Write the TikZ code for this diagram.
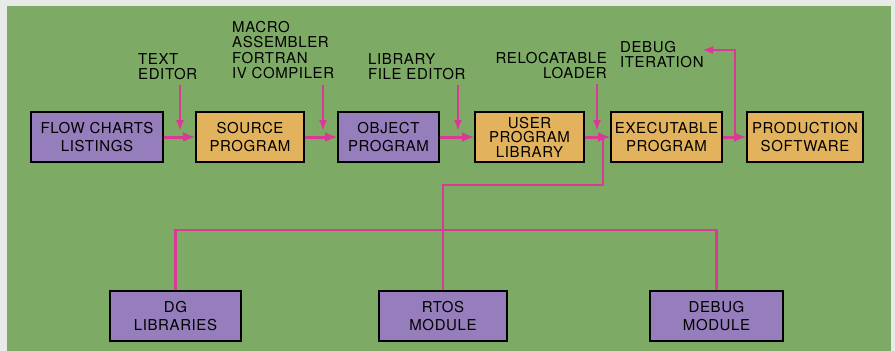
\documentclass[tikz,border=0pt]{standalone}
\usepackage{fontspec}
\setmainfont{TeX Gyre Heros}[LetterSpace=4]
\usetikzlibrary{arrows.meta}
\definecolor{sdgray}{RGB}{232,234,232}
\definecolor{sdgreen}{RGB}{125,170,100}
\definecolor{sdpurple}{RGB}{150,125,188}
\definecolor{sdorange}{RGB}{226,178,92}
\definecolor{sdpink}{RGB}{218,58,150}
\begin{document}
\begin{tikzpicture}[x=1pt, y=-1pt,
  sdevbox/.style = {draw=black, line width=1.6pt, minimum height=50pt, inner sep=0pt,
    align=center, font=\fontsize{15}{18.5}\selectfont},
  sdevpurple/.style = {sdevbox, fill=sdpurple},
  sdevorange/.style = {sdevbox, fill=sdorange},
  sdevflow/.style = {line width=3pt, sdpink, -{Latex[length=12pt,width=10pt]}},
  sdevfeed/.style = {line width=2.2pt, sdpink, -{Latex[length=11pt,width=8pt]}},
  sdevlink/.style = {line width=2.2pt, sdpink},
  sdevlbl/.style = {inner sep=0pt, font=\fontsize{15}{15.5}\selectfont}
]
  % panel
  \fill[sdgray] (0,0) rectangle (895,351);
  \fill[sdgreen] (7,6) rectangle (891,351);
  % main chain
  \node[sdevpurple, minimum width=132pt] (flow) at (97,137) {FLOW CHARTS\\LISTINGS};
  \node[sdevorange, minimum width=108pt] (source) at (250,137) {SOURCE\\PROGRAM};
  \node[sdevpurple, minimum width=101pt] (object) at (388.5,137) {OBJECT\\PROGRAM};
  \node[sdevorange, minimum width=109pt, font=\fontsize{15}{14.5}\selectfont]
    (userlib) at (529.5,137) {USER\\PROGRAM\\LIBRARY};
  \node[sdevorange, minimum width=111pt] (exec) at (666.5,137) {EXECUTABLE\\PROGRAM};
  \node[sdevorange, minimum width=116pt] (prod) at (805,137) {PRODUCTION\\SOFTWARE};
  % modules
  \node[sdevpurple, minimum width=131pt] (dglib) at (175.5,316) {DG\\LIBRARIES};
  \node[sdevpurple, minimum width=128pt] (rtos) at (443,316) {RTOS\\MODULE};
  \node[sdevpurple, minimum width=133pt] (debug) at (716.5,316) {DEBUG\\MODULE};
  % tools
  \node[sdevlbl, anchor=north west, align=left] (txted) at (138,53) {TEXT\\EDITOR};
  \node[sdevlbl, anchor=north west, align=left] (compiler) at (232,21)
    {MACRO\\ASSEMBLER\\FORTRAN\\IV COMPILER};
  \node[sdevlbl, anchor=north west, align=left] (libed) at (368,53) {LIBRARY\\FILE EDITOR};
  \node[sdevlbl, anchor=north east, align=right] (loader) at (607,52) {RELOCATABLE\\LOADER};
  \node[sdevlbl, anchor=north west, align=left] (dbgit) at (620,41) {DEBUG\\ITERATION};
  % flow arrows
  \draw[sdevflow] (flow) -- (source);
  \draw[sdevflow] (source) -- (object);
  \draw[sdevflow] (object) -- (userlib);
  \draw[sdevflow] (userlib) -- (exec);
  \draw[sdevflow] (exec) -- (prod);
  % tool arrows
  \coordinate (txtin) at (180,131);
  \coordinate (cmpin) at (323,131);
  \coordinate (libin) at (458,131);
  \coordinate (ldrin) at (597,131);
  \draw[sdevfeed] (txtin |- txted.south) ++(0,5) -- (txtin);
  \draw[sdevfeed] (cmpin |- txted.south) ++(0,5) -- (cmpin);
  \draw[sdevfeed] (libin |- libed.south) ++(0,5) -- (libin);
  \draw[sdevfeed] (ldrin |- loader.south) ++(0,5) -- (ldrin);
  % module links
  \coordinate (split) at (603,137);
  \draw[sdevlink] (split) -- ++(0,48) -| (rtos.north);
  \draw[sdevlink] (dglib.north) -- ++(0,-60) -| (debug.north);
  % debug loop
  \coordinate (loop) at (735,137);
  \coordinate (dbgin) at (702,50);
  \draw[sdevfeed] (loop) |- (dbgin);
\end{tikzpicture}
\end{document}
